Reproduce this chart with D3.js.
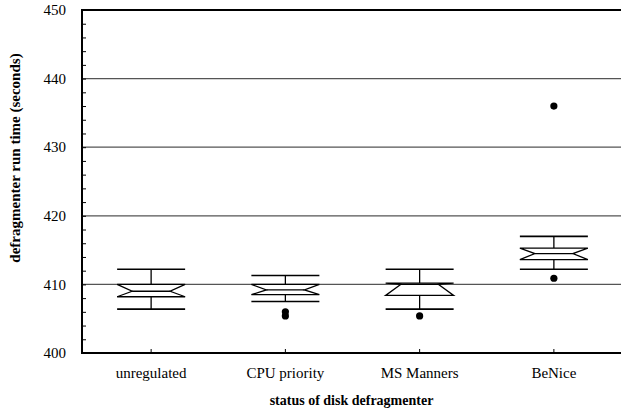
<!DOCTYPE html>
<html>
<head>
<meta charset="utf-8">
<script src="https://cdn.jsdelivr.net/npm/d3@7"></script>
<style>
  html, body { margin: 0; padding: 0; background: #fff; }
  svg { display: block; }
</style>
</head>
<body>
<svg id="chart" width="621" height="414" font-family="'Liberation Serif', 'Times New Roman', 'DejaVu Serif', serif"></svg>
<script>
// Defragmenter run time under four regulation settings (seconds)
const categories = ["unregulated", "CPU priority", "MS Manners", "BeNice"];
const lowerWhisker = [406.4, 407.5, 406.4, 412.2];
const lowerQuartile = [408.2, 408.5, 408.4, 413.6];
const medians = [409.0, 409.2, 410.0, 414.5];
const upperQuartile = [410.0, 410.0, 410.2, 415.3];
const upperWhisker = [412.2, 411.3, 412.2, 417.0];
// outlying runs: [category index, value]
const outliers = [[1, 406.0], [1, 405.4], [2, 405.4], [3, 436.0], [3, 410.9]];
const yTicks = [400, 410, 420, 430, 440, 450];

const svg = d3.select("#chart");
const margin = { left: 82, right: 0, top: 10, bottom: 61 };
const W = 621, H = 414;

const x = d3.scaleBand().domain(categories).range([margin.left + 2, W]).padding(0);
const y = d3.scaleLinear().domain([400, 450]).range([H - margin.bottom, margin.top]);

// horizontal grid at each major tick
svg.append("g")
  .selectAll("line")
  .data(yTicks.slice(1))
  .join("line")
  .attr("x1", margin.left).attr("x2", W)
  .attr("y1", d => y(d)).attr("y2", d => y(d))
  .attr("stroke", d => d === 450 ? "#000" : "#555")
  .attr("stroke-width", d => d === 450 ? 2 : 1.2);

// y axis: minor ticks every 2 s pointing into the plot
const yAxis = svg.append("g").attr("transform", `translate(${margin.left},0)`)
  .call(d3.axisRight(y).tickValues(d3.range(400, 450.1, 2)).tickSize(4).tickFormat(""));
yAxis.select(".domain").remove();
yAxis.selectAll("line").attr("stroke", "#000").attr("stroke-width", 1);

svg.append("g")
  .selectAll("text")
  .data(yTicks)
  .join("text")
  .attr("x", margin.left - 16)
  .attr("y", d => y(d))
  .attr("dy", "0.35em")
  .attr("text-anchor", "end")
  .attr("font-size", 15)
  .text(d => d);

svg.append("line")
  .attr("x1", margin.left).attr("x2", margin.left)
  .attr("y1", y(450) - 1).attr("y2", y(400) + 1)
  .attr("stroke", "#000").attr("stroke-width", 2);

// x axis baseline and category ticks
const xAxis = svg.append("g").attr("transform", `translate(0,${y(400)})`)
  .call(d3.axisTop(x).tickSize(4).tickFormat(""));
xAxis.select(".domain").remove();
xAxis.selectAll("line").attr("stroke", "#000");

svg.append("line")
  .attr("x1", margin.left - 1).attr("x2", W)
  .attr("y1", y(400)).attr("y2", y(400))
  .attr("stroke", "#000").attr("stroke-width", 2);

svg.append("g")
  .selectAll("text")
  .data(categories)
  .join("text")
  .attr("x", d => x(d) + x.bandwidth() / 2)
  .attr("y", y(400) + 25)
  .attr("text-anchor", "middle")
  .attr("font-size", 15)
  .text(d => d);

// axis titles
svg.append("text")
  .attr("x", (margin.left + W) / 2)
  .attr("y", 405)
  .attr("text-anchor", "middle")
  .attr("font-size", 14)
  .attr("font-weight", "bold")
  .text("status of disk defragmenter");

svg.append("text")
  .attr("transform", "translate(20,158) rotate(-90)")
  .attr("text-anchor", "middle")
  .attr("font-size", 15)
  .attr("font-weight", "bold")
  .text("defragmenter run time (seconds)");

// notched boxes
const half = 34, inset = 15, capHalf = 34;
const boxes = svg.append("g").attr("fill", "none").attr("stroke", "#000").attr("stroke-width", 1.3);

categories.forEach((c, i) => {
  const cx = x(c) + x.bandwidth() / 2;
  const g = boxes.append("g");
  // whiskers
  g.append("line").attr("x1", cx).attr("x2", cx)
    .attr("y1", y(upperWhisker[i])).attr("y2", y(upperQuartile[i]));
  g.append("line").attr("x1", cx).attr("x2", cx)
    .attr("y1", y(lowerQuartile[i])).attr("y2", y(lowerWhisker[i]));
  // caps
  [upperWhisker[i], lowerWhisker[i]].forEach(v => {
    g.append("line").attr("x1", cx - capHalf).attr("x2", cx + capHalf)
      .attr("y1", y(v)).attr("y2", y(v)).attr("stroke-width", 1.6);
  });
  // notched outline
  const pts = [
    [cx - half, y(upperQuartile[i])],
    [cx + half, y(upperQuartile[i])],
    [cx + half - inset, y(medians[i])],
    [cx + half, y(lowerQuartile[i])],
    [cx - half, y(lowerQuartile[i])],
    [cx - half + inset, y(medians[i])]
  ];
  g.append("path").attr("d", d3.line()(pts) + "Z");
  // median
  g.append("line")
    .attr("x1", cx - half + inset).attr("x2", cx + half - inset)
    .attr("y1", y(medians[i])).attr("y2", y(medians[i]));
});

// outlying points
svg.append("g")
  .selectAll("circle")
  .data(outliers)
  .join("circle")
  .attr("cx", d => x(categories[d[0]]) + x.bandwidth() / 2)
  .attr("cy", d => y(d[1]))
  .attr("r", 3.6)
  .attr("fill", "#000");
</script>
</body>
</html>
